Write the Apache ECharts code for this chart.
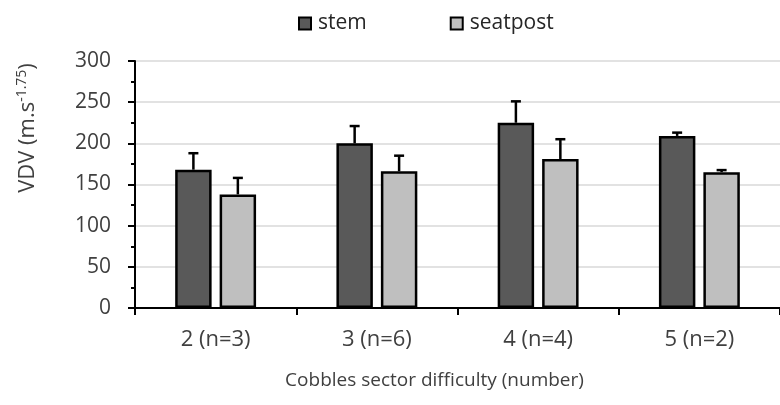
<!DOCTYPE html>
<html>
<head>
<meta charset="utf-8">
<script src="https://cdn.jsdelivr.net/npm/echarts@6/dist/echarts.min.js"></script>
<style>html,body{margin:0;padding:0;background:#fff}#c{width:780px;height:405px}</style>
</head>
<body>
<div id="c"></div>
<script>
var categories = ['2 (n=3)', '3 (n=6)', '4 (n=4)', '5 (n=2)'];
var stemValues = [168, 200, 225, 209];
var stemErrors = [20, 21, 26, 4];
var seatpostValues = [138, 166, 181, 165];
var seatpostErrors = [20, 19, 24, 2.5];
var yTicks = [0, 50, 100, 150, 200, 250, 300];

var FONT = '"Open Sans", sans-serif';
var TXT = '#404040';
var BW = 0.226;   // bar width as fraction of band
var GAP = 0.22;   // gap as fraction of bar width

function errSeries(name, values, errors, side) {
  var data = values.map(function (v, i) { return [i, v, v + errors[i]]; });
  return {
    type: 'custom',
    name: name + ' err',
    z: 5,
    silent: true,
    renderItem: function (params, api) {
      var band = api.size([1, 0])[0];
      var off = side * (BW * band * (1 + GAP)) / 2;
      var p0 = api.coord([api.value(0), api.value(1)]);
      var p1 = api.coord([api.value(0), api.value(2)]);
      var x = p0[0] + off;
      var style = { stroke: '#000', lineWidth: 2.5 };
      return {
        type: 'group',
        children: [
          { type: 'line', shape: { x1: x, y1: p0[1], x2: x, y2: p1[1] }, style: style },
          { type: 'line', shape: { x1: x - 5, y1: p1[1], x2: x + 5, y2: p1[1] }, style: style }
        ]
      };
    },
    encode: { x: 0, y: [1, 2] },
    data: data
  };
}

var chart = echarts.init(document.getElementById('c'));
chart.setOption({
  animation: false,
  textStyle: { fontFamily: FONT },
  legend: {
    top: 8,
    left: 293,
    icon: 'rect',
    itemWidth: 12,
    itemHeight: 12,
    itemGap: 83,
    itemStyle: { borderColor: '#000', borderWidth: 2 },
    textStyle: { fontSize: 21, color: '#262626', fontFamily: FONT, padding: [0, 0, 0, 2] },
    data: ['stem', 'seatpost']
  },
  grid: { left: 135, right: -9, top: 61, bottom: 97 },
  xAxis: {
    type: 'category',
    data: categories,
    name: 'Cobbles sector difficulty (number)',
    nameLocation: 'middle',
    nameGap: 63,
    nameTextStyle: { fontSize: 19, color: TXT, fontFamily: FONT, padding: [0, 46, 0, 0] },
    axisLine: { lineStyle: { color: '#000', width: 2 } },
    axisTick: { show: true, length: 7, lineStyle: { color: '#000', width: 2 } },
    axisLabel: { fontSize: 22, color: TXT, margin: 21, fontFamily: FONT }
  },
  yAxis: {
    type: 'value',
    min: 0,
    max: 300,
    interval: 50,
    name: '{a|VDV (m.s}{sup|-1.75}{a|)}',
    nameLocation: 'middle',
    nameGap: 95,
    nameTextStyle: {
      padding: [0, 0, 0, 113],
      rich: {
        a: { fontSize: 22, color: TXT, fontFamily: FONT },
        sup: { fontSize: 14, color: TXT, fontFamily: FONT, verticalAlign: 'top', padding: [0, 0, 11, 0] }
      }
    },
    axisLine: { show: true, lineStyle: { color: '#000', width: 2 } },
    axisTick: { show: true, length: 7, lineStyle: { color: '#000', width: 2 } },
    minorTick: { show: true, splitNumber: 2, length: 4, lineStyle: { color: '#000', width: 2 } },
    splitLine: { lineStyle: { color: '#d9d9d9', width: 1.5 } },
    axisLabel: {
      fontSize: 21, color: TXT, margin: 24, fontFamily: FONT,
      formatter: function (v) { return yTicks.indexOf(v) >= 0 ? String(v) : ''; }
    }
  },
  series: [
    {
      name: 'stem', type: 'bar', data: stemValues,
      barWidth: (BW * 100) + '%', barGap: (GAP * 100) + '%',
      itemStyle: { color: '#595959', borderColor: '#000', borderWidth: 2.5 }
    },
    {
      name: 'seatpost', type: 'bar', data: seatpostValues,
      barWidth: (BW * 100) + '%', barGap: (GAP * 100) + '%',
      itemStyle: { color: '#bfbfbf', borderColor: '#000', borderWidth: 2.5 }
    },
    errSeries('stem', stemValues, stemErrors, -1),
    errSeries('seatpost', seatpostValues, seatpostErrors, 1)
  ]
});
</script>
</body>
</html>
